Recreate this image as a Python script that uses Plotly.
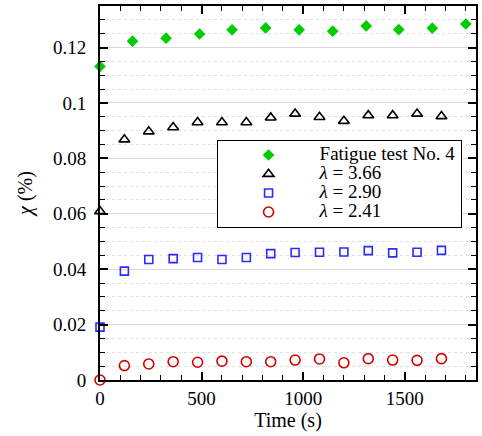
import plotly.graph_objects as go

# Data
t_fatigue = [0, 160, 325, 490, 650, 815, 980, 1145, 1310, 1470, 1635, 1800]
chi_fatigue = [0.1132, 0.1223, 0.1234, 0.1249, 0.1264, 0.1271, 0.1264, 0.1259, 0.1278, 0.1265, 0.1270, 0.1285]

t_lambda = [0, 120, 240, 360, 480, 600, 720, 840, 960, 1080, 1200, 1320, 1440, 1560, 1680]
chi_366 = [0.0609, 0.0868, 0.0897, 0.0912, 0.0930, 0.0930, 0.0930, 0.0947, 0.0961, 0.0949, 0.0935, 0.0955, 0.0955, 0.0961, 0.0952]
chi_290 = [0.0191, 0.0393, 0.0435, 0.0438, 0.0442, 0.0435, 0.0442, 0.0456, 0.0460, 0.0461, 0.0462, 0.0467, 0.0459, 0.0461, 0.0468]
chi_241 = [0.0000, 0.0052, 0.0058, 0.0066, 0.0064, 0.0068, 0.0066, 0.0066, 0.0072, 0.0076, 0.0062, 0.0077, 0.0072, 0.0071, 0.0077]

names = ["Fatigue test No. 4", "<i>λ</i> = 3.66", "<i>λ</i> = 2.90", "<i>λ</i> = 2.41"]

FONT = "Liberation Serif, Times New Roman, Times, serif"

def lbl(s):
    return '<span style="font-size:19px">' + s + '</span>'

fig = go.Figure()
fig.add_trace(go.Scatter(x=t_fatigue, y=chi_fatigue, mode="markers", name=lbl(names[0]),
                         cliponaxis=False,
                         marker=dict(symbol="diamond", size=9, color="#00cc00")))
fig.add_trace(go.Scatter(x=t_lambda, y=chi_366, mode="markers", name=lbl(names[1]),
                         cliponaxis=False,
                         marker=dict(symbol="triangle-up-open", size=9.5, color="black",
                                     line=dict(width=1.6, color="black"))))
fig.add_trace(go.Scatter(x=t_lambda, y=chi_290, mode="markers", name=lbl(names[2]),
                         cliponaxis=False,
                         marker=dict(symbol="square-open", size=8, color="#2b2bff",
                                     line=dict(width=1.6, color="#2b2bff"))))
fig.add_trace(go.Scatter(x=t_lambda, y=chi_241, mode="markers", name=lbl(names[3]),
                         cliponaxis=False,
                         marker=dict(symbol="circle-open", size=10, color="#d40000",
                                     line=dict(width=1.6, color="#d40000"))))

fig.update_layout(
    width=482, height=436,
    margin=dict(l=100, r=4, t=5, b=56),
    paper_bgcolor="white", plot_bgcolor="white",
    font=dict(family=FONT, size=19, color="black"),
    showlegend=True,
    legend=dict(x=0.31, y=0.643, xanchor="left", yanchor="top",
                bgcolor="white", bordercolor="black", borderwidth=1,
                font=dict(family=FONT, size=12, color="black"),
                itemwidth=92, tracegroupgap=0),
    xaxis=dict(
        range=[0, 1850], dtick=500, tick0=0,
        showline=True, linecolor="black", linewidth=2, mirror="allticks",
        ticks="inside", ticklen=8, tickwidth=1.5, tickcolor="black",
        showgrid=False, zeroline=False,
        tickfont=dict(family=FONT, size=19),
        title=dict(text="Time (s)", font=dict(family=FONT, size=20), standoff=4),
        minor=dict(dtick=100, tick0=0, ticks="inside", ticklen=5, tickwidth=1.2,
                   tickcolor="black", showgrid=False),
    ),
    yaxis=dict(
        range=[0, 0.135], dtick=0.02, tick0=0,
        showline=True, linecolor="black", linewidth=2, mirror="allticks",
        ticks="inside", ticklen=8, tickwidth=1.5, tickcolor="black",
        showgrid=True, gridcolor="#d9d9d9", gridwidth=1, zeroline=False,
        tickfont=dict(family=FONT, size=19),
        ticklabelstandoff=8,
        title=dict(text="<i>χ</i> (%)", font=dict(family=FONT, size=20), standoff=15),
        minor=dict(dtick=0.005, tick0=0, ticks="inside", ticklen=5, tickwidth=1.2,
                   tickcolor="black", showgrid=True, gridcolor="#e0e0e0",
                   griddash="dot", gridwidth=1),
    ),
)

fig.write_html("out.html", config={"displayModeBar": False},
               post_script="document.body.style.margin='0';")
